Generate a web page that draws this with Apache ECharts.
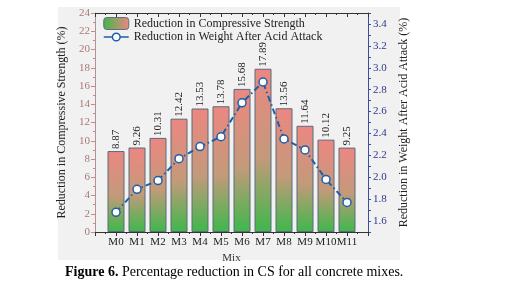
<!DOCTYPE html>
<html>
<head>
<meta charset="utf-8">
<script src="https://cdn.jsdelivr.net/npm/echarts@6/dist/echarts.min.js"></script>
<style>
  html, body { margin: 0; padding: 0; background: #fff; }
  #main { width: 520px; height: 286px; }
</style>
</head>
<body>
<div id="main"></div>
<script>
let mixes = ["M0", "M1", "M2", "M3", "M4", "M5", "M6", "M7", "M8", "M9", "M10", "M11"];
let csReduction = [8.87, 9.26, 10.31, 12.42, 13.53, 13.78, 15.68, 17.89, 13.56, 11.64, 10.12, 9.25];
let weightReduction = [1.68, 1.89, 1.97, 2.17, 2.28, 2.37, 2.68, 2.87, 2.35, 2.25, 1.98, 1.77];
let leftTicks = [0, 2, 4, 6, 8, 10, 12, 14, 16, 18, 20, 22, 24];
let rightTicks = [1.6, 1.8, 2.0, 2.2, 2.4, 2.6, 2.8, 3.0, 3.2, 3.4];

const serif = "'Liberation Serif', 'DejaVu Serif', serif";
const lineBlue = "#1f5ea8";

let chart = echarts.init(document.getElementById("main"), null, { renderer: "canvas" });

let barGradient = new echarts.graphic.LinearGradient(0, 0, 0, 1, [
  { offset: 0, color: "#ec8781" },
  { offset: 0.55, color: "#c39a7a" },
  { offset: 1, color: "#3db84a" },
]);
let legendGradient = new echarts.graphic.LinearGradient(0, 0, 1, 0, [
  { offset: 0, color: "#3db84a" },
  { offset: 1, color: "#ec8781" },
]);

// legend icon: line with an open circle in the middle
let lineIcon = "path://M0,5 L9,5 M17,5 L26,5 M17,5 A4,4 0 1,1 9,5 A4,4 0 1,1 17,5 Z";

var option = {
  animation: false,
  textStyle: { fontFamily: serif },
  graphic: [
    {
      type: "rect",
      z: -10,
      silent: true,
      shape: { x: 58, y: 7, width: 342, height: 253 },
      style: { fill: "#f1f1f1" },
    },
  ],
  title: {
    text: "{b|Figure 6.} Percentage reduction in CS for all concrete mixes.",
    left: 60,
    top: 260,
    textStyle: {
      fontFamily: serif,
      fontSize: 14,
      fontWeight: "normal",
      color: "#000",
      rich: {
        b: { fontFamily: serif, fontSize: 14, fontWeight: "bold", color: "#000" },
      },
    },
  },
  legend: {
    orient: "vertical",
    left: 98,
    top: 12,
    itemGap: 1,
    itemWidth: 25,
    itemHeight: 12,
    textStyle: { fontFamily: serif, fontSize: 12, color: "#222" },
    data: [
      {
        name: "Reduction in Compressive Strength",
        itemStyle: { color: legendGradient, borderColor: "#6a6a7a", borderWidth: 1 },
      },
      {
        name: "Reduction in Weight After Acid Attack",
        icon: lineIcon,
        itemStyle: { color: "#fff", borderColor: lineBlue, borderWidth: 1.5 },
      },
    ],
  },
  grid: {
    left: 95,
    right: 152,
    top: 13,
    bottom: 54,
  },
  xAxis: [
    {
      type: "value",
      min: -1,
      max: 12,
      interval: 1,
      name: "Mix",
      nameLocation: "middle",
      nameGap: 18,
      nameTextStyle: { fontFamily: serif, fontSize: 11, color: "#333" },
      axisLine: { show: true, onZero: false, lineStyle: { color: "#333", width: 1 } },
      axisTick: { show: true, length: 4, lineStyle: { color: "#333" } },
      minorTick: { show: true, splitNumber: 2, length: 2, lineStyle: { color: "#333" } },
      splitLine: { show: false },
      axisLabel: {
        fontFamily: serif,
        fontSize: 11,
        color: "#222",
        margin: 5,
        formatter: function (v) {
          return mixes[v] !== undefined ? mixes[v] : "";
        },
      },
    },
    {
      type: "value",
      position: "top",
      min: -1,
      max: 12,
      interval: 1,
      axisLine: { show: true, onZero: false, lineStyle: { color: "#333", width: 1 } },
      axisTick: { show: true, inside: true, length: 4, lineStyle: { color: "#333" } },
      minorTick: { show: true, splitNumber: 2, length: 2, lineStyle: { color: "#333" } },
      splitLine: { show: false },
      axisLabel: { show: false },
    },
  ],
  yAxis: [
    {
      type: "value",
      min: leftTicks[0],
      max: leftTicks[leftTicks.length - 1],
      interval: 2,
      name: "Reduction in Compressive Strength (%)",
      nameLocation: "middle",
      nameGap: 23,
      nameTextStyle: { fontFamily: serif, fontSize: 12, color: "#222" },
      axisLine: { show: true, onZero: false, lineStyle: { color: "#b89090", width: 1 } },
      axisTick: { show: true, length: 4, lineStyle: { color: "#b89090" } },
      minorTick: { show: true, splitNumber: 2, length: 2, lineStyle: { color: "#b89090" } },
      splitLine: { show: false },
      axisLabel: { fontFamily: serif, fontSize: 11, color: "#a87878", margin: 5 },
    },
    {
      type: "value",
      position: "right",
      min: 1.5,
      max: 3.5,
      interval: 0.1,
      name: "Reduction in Weight After Acid Attack (%)",
      nameLocation: "middle",
      nameGap: 23,
      nameTextStyle: { fontFamily: serif, fontSize: 12, color: "#222" },
      axisLine: { show: true, onZero: false, lineStyle: { color: "#3b4f9f", width: 1 } },
      axisTick: { show: true, length: 3, lineStyle: { color: "#3b4f9f" } },
      splitLine: { show: false },
      axisLabel: {
        fontFamily: serif,
        fontSize: 11,
        color: "#2b3a8c",
        margin: 5,
        formatter: function (v) {
          let hit = rightTicks.find(function (t) { return Math.abs(t - v) < 1e-6; });
          return hit !== undefined ? hit.toFixed(1) : "";
        },
      },
    },
  ],
  series: [
    {
      name: "Reduction in Compressive Strength",
      type: "bar",
      xAxisIndex: 0,
      yAxisIndex: 0,
      barWidth: 17,
      data: csReduction.map(function (v, i) { return [i, v]; }),
      itemStyle: {
        color: barGradient,
        borderColor: "#5a6a7c",
        borderWidth: 1,
      },
      label: {
        show: true,
        position: "top",
        rotate: 90,
        align: "left",
        verticalAlign: "middle",
        distance: 2,
        fontFamily: serif,
        fontSize: 11,
        color: "#222",
        formatter: function (p) {
          return p.value[1].toFixed(2);
        },
      },
    },
    {
      name: "Reduction in Weight After Acid Attack",
      type: "line",
      xAxisIndex: 0,
      yAxisIndex: 1,
      data: weightReduction.map(function (v, i) { return [i, v]; }),
      symbol: "circle",
      symbolSize: 8,
      lineStyle: { color: lineBlue, width: 2, type: [6, 3, 1.5, 3] },
      itemStyle: { color: "#fff", borderColor: lineBlue, borderWidth: 1.5 },
      z: 5,
    },
  ],
};
chart.setOption(option);
</script>
</body>
</html>
